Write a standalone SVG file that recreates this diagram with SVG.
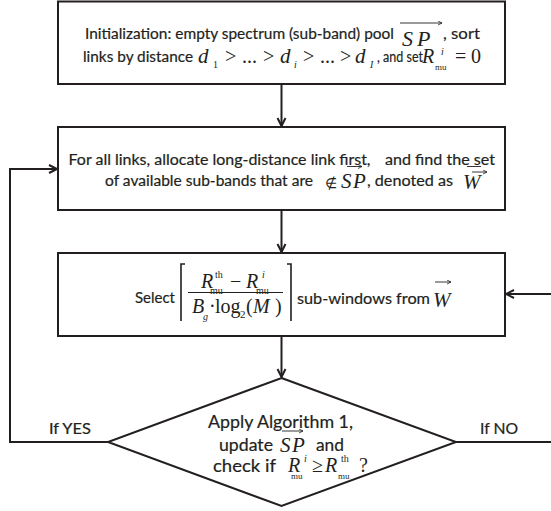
<svg xmlns="http://www.w3.org/2000/svg" width="551" height="511" viewBox="0 0 551 511">
<defs>
<style>
.box{fill:#fff;stroke:#231f20;stroke-width:2}
.con{fill:none;stroke:#231f20;stroke-width:2}
.t{font-family:Lato,"Open Sans","Liberation Sans",sans-serif;fill:#231f20;stroke:#231f20;stroke-width:0.2}
.m{font-family:"Liberation Serif","Times New Roman",serif;font-style:italic;fill:#231f20}
.u{font-family:"Liberation Serif","Times New Roman",serif;fill:#231f20}
.up{font-style:normal}
.vec{fill:none;stroke:#231f20;stroke-width:0.9}
.brk{fill:none;stroke:#231f20;stroke-width:1.6}
</style>
<marker id="ah" markerUnits="userSpaceOnUse" markerWidth="12" markerHeight="12" refX="9" refY="5" orient="auto">
<path d="M1,1 L9,5 L1,9" fill="none" stroke="#231f20" stroke-width="2"/>
</marker>
<marker id="va" markerUnits="userSpaceOnUse" markerWidth="6" markerHeight="6" refX="4" refY="2" orient="auto">
<path d="M0,0 L4,2 L0,4" fill="none" stroke="#231f20" stroke-width="0.8"/>
</marker>
</defs>
<rect width="551" height="511" fill="#fff"/>

<g id="connectors">
<line class="con" x1="281.5" y1="84" x2="281.5" y2="126" marker-end="url(#ah)"/>
<line class="con" x1="281.5" y1="210" x2="281.5" y2="252" marker-end="url(#ah)"/>
<line class="con" x1="281.5" y1="336" x2="281.5" y2="377" marker-end="url(#ah)"/>
<path class="con" d="M108,442 H10 V169 H57" marker-end="url(#ah)"/>
<path class="con" d="M456,442 H553 V294 H506" marker-end="url(#ah)"/>
</g>

<g id="init">
<rect class="box" x="58" y="1.5" width="447" height="82.5"/>
<text class="t" x="85" y="39" font-size="14.5" textLength="309" lengthAdjust="spacingAndGlyphs">Initialization: empty spectrum (sub-band) pool</text>
<text class="m" x="402" y="46" font-size="22">S<tspan x="417">P</tspan></text>
<line class="vec" x1="400" y1="23" x2="442" y2="23" marker-end="url(#va)"/>
<text class="t" x="443" y="39" font-size="14.5" textLength="37" lengthAdjust="spacingAndGlyphs">, sort</text>
<text class="t" x="83" y="62" font-size="14.5" textLength="110" lengthAdjust="spacingAndGlyphs">links by distance</text>
<text class="m" x="198" y="63" font-size="21">d<tspan class="up" x="213" y="68" font-size="10">1</tspan><tspan class="up" x="225" y="63" font-size="20">&gt;</tspan><tspan class="up" x="242" font-size="20">...</tspan><tspan class="up" x="263" font-size="20">&gt;</tspan><tspan x="280">d</tspan><tspan x="294" y="68" font-size="10">i</tspan><tspan class="up" x="303" y="63" font-size="20">&gt;</tspan><tspan class="up" x="320" font-size="20">...</tspan><tspan class="up" x="340" font-size="20">&gt;</tspan><tspan x="355">d</tspan><tspan x="370" y="68" font-size="10">I</tspan></text>
<text class="t" x="377" y="62" font-size="14.5" textLength="46" lengthAdjust="spacingAndGlyphs">, and set</text>
<text class="m" x="422" y="63" font-size="20">R<tspan x="441" y="55" font-size="10">i</tspan><tspan class="up" x="435" y="70" font-size="9">mu</tspan><tspan class="up" x="455" y="63">=</tspan><tspan class="up" x="471">0</tspan></text>
</g>

<g id="allocate">
<rect class="box" x="58" y="127" width="447" height="83"/>
<text class="t" x="68.5" y="165" font-size="14.5" textLength="302" lengthAdjust="spacingAndGlyphs">For all links, allocate long-distance link first,</text>
<line class="vec" x1="347" y1="166.5" x2="362" y2="166.5" marker-end="url(#va)"/>
<text class="t" x="385" y="165" font-size="14.5" textLength="110" lengthAdjust="spacingAndGlyphs">and find the set</text>
<line class="vec" x1="467" y1="166.5" x2="481" y2="166.5"/>
<text class="t" x="105" y="186" font-size="14.5" textLength="208" lengthAdjust="spacingAndGlyphs">of available sub-bands that are</text>
<text class="u" x="325" y="188" font-size="14">∉</text>
<text class="m" x="341" y="188" font-size="21">S<tspan x="353">P</tspan></text>
<text class="t" x="367" y="186" font-size="14.5" textLength="86" lengthAdjust="spacingAndGlyphs">, denoted as</text>
<text class="m" x="463" y="189" font-size="21">W</text>
<line class="vec" x1="472" y1="172" x2="487" y2="172" marker-end="url(#va)"/>
</g>

<g id="select">
<rect class="box" x="58" y="253" width="447" height="83"/>
<text class="t" x="135" y="303" font-size="16" textLength="40" lengthAdjust="spacingAndGlyphs">Select</text>
<path class="brk" d="M185,264 H181 V321"/>
<path class="brk" d="M287,264 H291 V321"/>
<text class="m" x="201" y="288" font-size="20">R<tspan class="up" x="215" y="278" font-size="10">th</tspan><tspan class="up" x="210" y="294" font-size="10">mu</tspan><tspan class="up" x="230" y="288">−</tspan><tspan x="246">R</tspan><tspan x="262" y="278" font-size="10">i</tspan><tspan class="up" x="256" y="294" font-size="10">mu</tspan></text>
<line x1="188" y1="292.5" x2="283" y2="292.5" stroke="#231f20" stroke-width="1"/>
<text class="m" x="192" y="313" font-size="20">B<tspan x="203" y="320" font-size="10">g</tspan><tspan class="up" x="209" y="313">·</tspan><tspan class="up" x="215">log</tspan><tspan class="up" x="240" y="318" font-size="11">2</tspan><tspan class="up" x="246" y="313">(</tspan><tspan x="253">M</tspan><tspan class="up" x="275">)</tspan></text>
<text class="t" x="297" y="304" font-size="16" textLength="133" lengthAdjust="spacingAndGlyphs">sub-windows from</text>
<text class="m" x="433" y="307" font-size="21">W</text>
<line class="vec" x1="435" y1="282" x2="451" y2="282" marker-end="url(#va)"/>
</g>

<g id="decision">
<polygon class="box" points="281.5,378 456,442 281.5,506 108,442"/>
<text class="t" x="208" y="428" font-size="17" textLength="145" lengthAdjust="spacingAndGlyphs">Apply Algorithm 1,</text>
<line class="vec" x1="282" y1="431" x2="303" y2="431" marker-end="url(#va)"/>
<text class="t" x="219" y="451" font-size="17" textLength="54" lengthAdjust="spacingAndGlyphs">update</text>
<text class="m" x="280" y="452" font-size="21">S<tspan x="292">P</tspan></text>
<text class="t" x="316" y="451" font-size="17" textLength="28" lengthAdjust="spacingAndGlyphs">and</text>
<text class="t" x="213" y="472" font-size="17" textLength="63" lengthAdjust="spacingAndGlyphs">check if</text>
<text class="m" x="288" y="472" font-size="20">R<tspan x="304" y="462" font-size="10">i</tspan><tspan class="up" x="291" y="479" font-size="9">mu</tspan><tspan class="up" x="312" y="472">≥</tspan><tspan x="325">R</tspan><tspan class="up" x="341" y="462" font-size="10">th</tspan><tspan class="up" x="338" y="479" font-size="9">mu</tspan><tspan class="up" x="359" y="472">?</tspan></text>
</g>

<g id="labels">
<text class="t" x="49" y="434" font-size="15" textLength="42" lengthAdjust="spacingAndGlyphs">If YES</text>
<text class="t" x="480" y="434" font-size="15" textLength="38" lengthAdjust="spacingAndGlyphs">If NO</text>
</g>
</svg>
